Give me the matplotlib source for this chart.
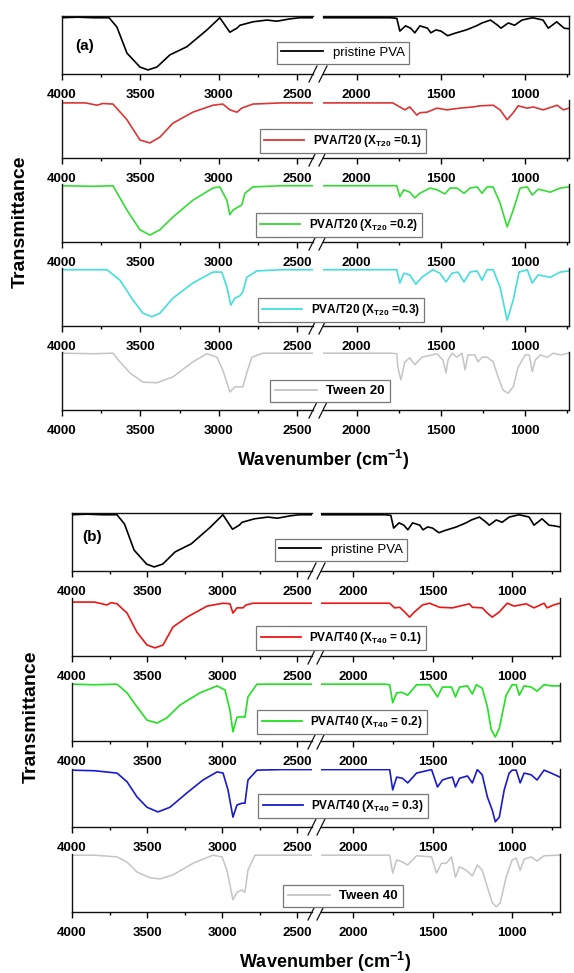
import matplotlib
matplotlib.use('Agg')
import matplotlib.pyplot as plt
from matplotlib.lines import Line2D
from matplotlib.font_manager import FontProperties

plt.rcParams['font.family'] = ['Liberation Sans', 'DejaVu Sans']
plt.rcParams['mathtext.fontset'] = 'custom'
plt.rcParams['mathtext.rm'] = 'Liberation Sans:bold'
plt.rcParams['mathtext.it'] = 'Liberation Sans:bold'
plt.rcParams['mathtext.bf'] = 'Liberation Sans:bold'

# ---------------- data (normalised transmittance) ----------------
pva_wn = [4000, 3900, 3800, 3700, 3650, 3586, 3503, 3452, 3395, 3312, 3204, 3076, 2994, 2930, 2885,
          2866, 2783, 2694, 2631, 2548, 2484, 2400, 2300, 2200, 2000, 1800, 1762, 1744, 1710, 1680,
          1655, 1625, 1580, 1560, 1530, 1500, 1460, 1420, 1350, 1290, 1256, 1206, 1163, 1144, 1100,
          1063, 1019, 956, 894, 863, 813, 769, 740, 700]
pva_t = [0.97, 0.98, 0.97, 0.97, 0.81, 0.36, 0.12, 0.07, 0.12, 0.33, 0.47, 0.76, 0.97, 0.72, 0.79,
         0.84, 0.90, 0.93, 0.91, 0.95, 0.97, 0.97, 0.97, 0.97, 0.97, 0.97, 0.96, 0.74, 0.83, 0.79,
         0.71, 0.83, 0.79, 0.71, 0.76, 0.74, 0.66, 0.70, 0.76, 0.83, 0.88, 0.93, 0.84, 0.79, 0.88,
         0.84, 0.93, 0.97, 0.93, 0.79, 0.90, 0.79, 0.78, 0.76]

t20_01_wn = [4000, 3850, 3777, 3740, 3675, 3586, 3503, 3440, 3376, 3293, 3166, 3038, 2975, 2930, 2885,
             2854, 2783, 2600, 2400, 2200, 1800, 1786, 1744, 1714, 1685, 1643, 1625, 1583, 1524, 1464,
             1387, 1310, 1268, 1190, 1149, 1107, 1071, 1042, 988, 952, 893, 810, 774, 740, 700]
t20_01_t = [0.95, 0.95, 0.91, 0.94, 0.93, 0.66, 0.31, 0.26, 0.36, 0.60, 0.79, 0.91, 0.93, 0.83, 0.79,
            0.86, 0.93, 0.95, 0.95, 0.95, 0.95, 0.95, 0.88, 0.83, 0.88, 0.74, 0.78, 0.79, 0.86, 0.83,
            0.86, 0.88, 0.90, 0.91, 0.83, 0.66, 0.78, 0.90, 0.86, 0.88, 0.83, 0.91, 0.83, 0.86, 0.86]

t20_02_wn = [4000, 3800, 3675, 3586, 3503, 3440, 3376, 3293, 3166, 3038, 2994, 2949, 2930, 2910, 2879,
             2854, 2834, 2783, 2600, 2400, 2200, 1800, 1762, 1744, 1720, 1685, 1655, 1625, 1565, 1524,
             1476, 1446, 1405, 1363, 1327, 1286, 1256, 1226, 1190, 1149, 1107, 1071, 1030, 988, 958,
             923, 851, 792, 740, 700]
t20_02_t = [0.97, 0.96, 0.97, 0.55, 0.21, 0.12, 0.21, 0.43, 0.72, 0.93, 0.95, 0.72, 0.47, 0.55, 0.60,
            0.64, 0.84, 0.95, 0.97, 0.97, 0.97, 0.97, 0.97, 0.78, 0.90, 0.86, 0.76, 0.84, 0.93, 0.90,
            0.83, 0.93, 0.93, 0.84, 0.93, 0.95, 0.84, 0.95, 0.95, 0.67, 0.26, 0.55, 0.93, 0.95, 0.81,
            0.91, 0.86, 0.93, 0.95, 0.95]

t20_03_wn = [4000, 3800, 3713, 3631, 3548, 3484, 3427, 3376, 3293, 3166, 3038, 2981, 2949, 2924, 2898,
             2866, 2847, 2822, 2758, 2600, 2400, 2200, 1800, 1762, 1744, 1720, 1685, 1649, 1613, 1548,
             1506, 1470, 1435, 1399, 1363, 1327, 1286, 1256, 1226, 1190, 1149, 1107, 1071, 1036, 988,
             958, 923, 851, 792, 740, 700]
t20_03_t = [0.97, 0.97, 0.97, 0.79, 0.45, 0.22, 0.16, 0.22, 0.48, 0.74, 0.93, 0.93, 0.67, 0.36, 0.48,
            0.52, 0.59, 0.84, 0.95, 0.97, 0.97, 0.97, 0.97, 0.97, 0.74, 0.91, 0.88, 0.72, 0.84, 0.97,
            0.91, 0.76, 0.91, 0.93, 0.76, 0.93, 0.95, 0.79, 0.97, 0.97, 0.67, 0.10, 0.45, 0.93, 0.97,
            0.74, 0.88, 0.84, 0.93, 0.95, 0.95]

tw20_wn = [4000, 3800, 3675, 3631, 3567, 3484, 3395, 3293, 3166, 3076, 3013, 2975, 2930, 2898, 2866,
           2847, 2822, 2790, 2720, 2400, 2200, 1800, 1762, 1756, 1738, 1714, 1685, 1655, 1613, 1524,
           1488, 1470, 1458, 1435, 1405, 1375, 1357, 1339, 1298, 1280, 1256, 1226, 1190, 1161, 1131,
           1101, 1071, 1042, 1000, 976, 958, 940, 911, 869, 833, 792, 740, 700]
tw20_t = [0.98, 0.97, 0.98, 0.83, 0.64, 0.48, 0.47, 0.57, 0.83, 0.97, 0.91, 0.69, 0.31, 0.40, 0.40,
          0.40, 0.64, 0.91, 0.98, 0.98, 0.98, 0.98, 0.97, 0.74, 0.52, 0.83, 0.90, 0.78, 0.91, 0.97,
          0.86, 0.64, 0.86, 0.98, 0.91, 0.98, 0.69, 0.95, 0.95, 0.83, 0.91, 0.91, 0.83, 0.57, 0.34,
          0.29, 0.40, 0.74, 0.95, 0.95, 0.66, 0.86, 0.95, 0.91, 0.98, 0.95, 0.98, 0.98]

t40_01_wn = [4000, 3850, 3767, 3740, 3700, 3633, 3567, 3500, 3447, 3393, 3327, 3233, 3100, 2993, 2947,
             2927, 2900, 2860, 2840, 2793, 2600, 2400, 2200, 1800, 1769, 1738, 1706, 1675, 1644, 1613,
             1563, 1519, 1456, 1375, 1269, 1250, 1188, 1156, 1125, 1081, 1031, 988, 913, 863, 800,
             781, 740, 700]
t40_01_t = [0.93, 0.93, 0.88, 0.92, 0.90, 0.74, 0.41, 0.19, 0.14, 0.19, 0.50, 0.67, 0.86, 0.91, 0.90,
            0.74, 0.83, 0.83, 0.88, 0.91, 0.91, 0.91, 0.91, 0.91, 0.91, 0.83, 0.84, 0.76, 0.67, 0.76,
            0.88, 0.91, 0.84, 0.83, 0.90, 0.84, 0.83, 0.74, 0.67, 0.76, 0.91, 0.86, 0.90, 0.83, 0.91,
            0.83, 0.88, 0.91]

t40_02_wn = [4000, 3850, 3700, 3633, 3567, 3500, 3433, 3367, 3280, 3147, 3033, 2980, 2947, 2927, 2900,
             2867, 2847, 2827, 2767, 2600, 2400, 2200, 1800, 1769, 1750, 1725, 1694, 1656, 1600, 1519,
             1469, 1438, 1381, 1356, 1331, 1281, 1250, 1225, 1188, 1156, 1131, 1106, 1081, 1038, 1000,
             975, 956, 925, 881, 844, 800, 750, 700]
t40_02_t = [0.98, 0.97, 0.98, 0.83, 0.59, 0.36, 0.31, 0.40, 0.62, 0.83, 0.95, 0.88, 0.53, 0.16, 0.41,
            0.42, 0.41, 0.76, 0.98, 0.98, 0.98, 0.98, 0.98, 0.97, 0.66, 0.83, 0.84, 0.79, 0.97, 0.97,
            0.76, 0.93, 0.93, 0.76, 0.93, 0.95, 0.81, 0.97, 0.91, 0.59, 0.19, 0.07, 0.22, 0.79, 0.97,
            0.97, 0.79, 0.95, 0.93, 0.86, 0.97, 0.95, 0.95]

t40_03_wn = [4000, 3850, 3700, 3633, 3567, 3500, 3427, 3347, 3233, 3127, 3033, 2993, 2960, 2927, 2900,
             2867, 2847, 2827, 2767, 2600, 2400, 2200, 1800, 1769, 1750, 1725, 1688, 1656, 1600, 1506,
             1469, 1438, 1406, 1375, 1356, 1331, 1281, 1250, 1219, 1188, 1156, 1125, 1106, 1081, 1050,
             1019, 1000, 975, 950, 925, 881, 844, 800, 756, 700]
t40_03_t = [0.98, 0.97, 0.93, 0.78, 0.52, 0.34, 0.26, 0.34, 0.59, 0.81, 0.95, 0.93, 0.64, 0.17, 0.38,
            0.41, 0.41, 0.81, 0.98, 0.99, 0.99, 0.99, 0.99, 0.99, 0.64, 0.86, 0.84, 0.76, 0.93, 0.99,
            0.69, 0.81, 0.84, 0.86, 0.69, 0.84, 0.88, 0.76, 0.99, 0.90, 0.52, 0.29, 0.09, 0.17, 0.64,
            0.93, 0.98, 0.98, 0.76, 0.93, 0.90, 0.81, 0.98, 0.93, 0.86]

tw40_wn = [4000, 3850, 3700, 3633, 3567, 3480, 3413, 3327, 3193, 3060, 3000, 2967, 2927, 2900, 2867,
           2847, 2827, 2780, 2600, 2400, 2200, 1800, 1769, 1750, 1725, 1688, 1656, 1600, 1506, 1475,
           1444, 1413, 1381, 1356, 1331, 1288, 1250, 1219, 1188, 1156, 1125, 1100, 1075, 1038, 1000,
           975, 950, 925, 881, 844, 800, 700]
tw40_t = [0.98, 0.98, 0.95, 0.86, 0.69, 0.59, 0.57, 0.64, 0.84, 0.98, 0.95, 0.72, 0.21, 0.34, 0.38,
          0.34, 0.72, 0.98, 0.98, 0.98, 0.98, 0.98, 0.98, 0.67, 0.90, 0.86, 0.81, 0.97, 0.95, 0.67,
          0.84, 0.84, 0.95, 0.60, 0.78, 0.72, 0.62, 0.81, 0.72, 0.43, 0.16, 0.09, 0.16, 0.60, 0.90,
          0.93, 0.72, 0.91, 0.95, 0.88, 0.97, 0.98]

labels_a = ['pristine PVA', r'PVA/T20 (X$_{T20}$ =0.1)', r'PVA/T20 (X$_{T20}$ =0.2)',
            r'PVA/T20 (X$_{T20}$ =0.3)', 'Tween 20']
labels_b = ['pristine PVA', r'PVA/T40 (X$_{T40}$ = 0.1)', r'PVA/T40 (X$_{T40}$ = 0.2)',
            r'PVA/T40 (X$_{T40}$ = 0.3)', 'Tween 40']
series_a = [(pva_wn, pva_t), (t20_01_wn, t20_01_t), (t20_02_wn, t20_02_t), (t20_03_wn, t20_03_t), (tw20_wn, tw20_t)]
series_b = [(pva_wn, pva_t), (t40_01_wn, t40_01_t), (t40_02_wn, t40_02_t), (t40_03_wn, t40_03_t), (tw40_wn, tw40_t)]
colors_a = ['#000000', '#dc3535', '#33dd33', '#44dede', '#c4c4c4']
colors_b = ['#000000', '#ee1515', '#22e022', '#1a1acd', '#c4c4c4']

left_ticks = [4000, 3500, 3000, 2500]
left_minor = [3750, 3250, 2750]
right_ticks = [2000, 1500, 1000]
right_minor = [1750, 1250, 750]

# ---------------- layout ----------------
W, H = 574, 973
fig = plt.figure(figsize=(W / 100, H / 100), dpi=100)
ROW_H = 58


def fx(px):
    return px / W


def fy(py):
    return 1 - py / H


def draw_panel(series, labels, colors, xl, xb1, xb2, xr, right_lim, bottoms, leg_centers,
               tag, tag_pos, ylab_pos, xlab_pos):
    tick_fp = FontProperties(family='Liberation Sans', weight='bold', size=9.5)
    for i, ((wn, t), lab, col, bot) in enumerate(zip(series, labels, colors, bottoms)):
        axL = fig.add_axes([fx(xl), fy(bot), fx(xb1 - xl), ROW_H / H])
        axR = fig.add_axes([fx(xb2), fy(bot), fx(xr - xb2), ROW_H / H])
        for ax, lim, ticks, minor in ((axL, (4000, 2400), left_ticks, left_minor),
                                      (axR, (2200, right_lim), right_ticks, right_minor)):
            ax.patch.set_visible(False)
            lw = 1.1 if col == '#c4c4c4' else 1.2
            ax.plot(wn, t, color=col, lw=lw, solid_joinstyle='round')
            ax.set_yticks([])
            ax.set_xticks(ticks)
            ax.set_xticks(minor, minor=True)
            ax.set_xlim(*lim)
            ax.set_ylim(0, 1.0)
            ax.tick_params(axis='x', which='major', direction='out', length=4.5, width=1, pad=6)
            ax.tick_params(axis='x', which='minor', direction='out', length=2.5, width=1)
            for lbl in ax.get_xticklabels():
                lbl.set_fontproperties(tick_fp)
            for s in ax.spines.values():
                s.set_linewidth(1.0)
                s.set_color('#111111')
            ax.spines['top'].set_visible(i == 0)
        axL.spines['right'].set_visible(False)
        axR.spines['left'].set_visible(False)
        # break marks
        for xe in (xb1, xb2):
            fig.add_artist(Line2D([fx(xe - 4), fx(xe + 4)], [fy(bot + 8), fy(bot - 8)],
                                  transform=fig.transFigure, color='#111111', lw=0.9))
        # legend
        if i == 0:
            fp = FontProperties(family='Liberation Sans', size=9.5)
            hl = 3.2
        elif lab.startswith('Tween'):
            fp = FontProperties(family='Liberation Sans', weight='bold', size=9.5)
            hl = 3.2
        else:
            fp = FontProperties(family='Liberation Sans', weight='bold', size=8.5)
            hl = 3.4
        cx, cy = leg_centers[i]
        leg = fig.legend(handles=[Line2D([], [], color=col, lw=1.3)], labels=[lab], loc='center',
                         bbox_to_anchor=(fx(cx), fy(cy)), prop=fp, frameon=True, fancybox=False,
                         framealpha=1, edgecolor='#777777', handlelength=hl, handletextpad=0.7,
                         borderpad=0.35, borderaxespad=0)
        leg.get_frame().set_linewidth(0.9)
    fig.text(fx(tag_pos[0]), fy(tag_pos[1]), tag, fontsize=11, weight='bold', ha='center', va='center')
    fig.text(fx(ylab_pos[0]), fy(ylab_pos[1]), 'Transmittance', fontsize=14, weight='bold',
             rotation=90, ha='center', va='center')
    fig.text(fx(xlab_pos[0]), fy(xlab_pos[1]), 'Wavenumber (cm$^{-1}$)', fontsize=13, weight='bold',
             ha='center', va='center')


draw_panel(series_a, labels_a, colors_a, 62, 313, 323, 569, 740,
           [74, 158, 242, 326, 410],
           [(343, 53), (343, 141), (339, 225), (341, 310), (330, 391)],
           '(a)', (85, 46), (20, 222), (323, 460))
draw_panel(series_b, labels_b, colors_b, 72, 312, 321, 560, 700,
           [571, 656, 741, 827, 912],
           [(341, 550), (341, 638), (342, 722), (343, 806), (343, 896)],
           '(b)', (92, 537), (31, 717), (325, 962))

fig.savefig('out.png', dpi=100)
